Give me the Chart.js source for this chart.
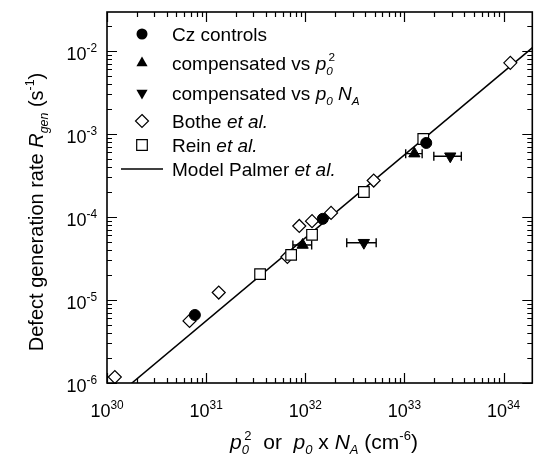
<!DOCTYPE html>
<html>
<head>
<meta charset="utf-8">
<script src="https://cdn.jsdelivr.net/npm/chart.js@4.4.1/dist/chart.umd.min.js"></script>
<style>
html, body { margin: 0; padding: 0; background: #fff; }
#wrap { width: 541px; height: 457px; position: relative; }
</style>
</head>
<body>
<div id="wrap"><canvas id="chart"></canvas></div>
<script>
// data (x in cm^-6, y in s^-1)
const czX = [7.7e30, 1.5e32, 1.66e33];
const czY = [6.6e-6, 9.5e-5, 7.8e-4];

const compP2X = [9.4e31, 1.26e33];
const compP2Y = [4.6e-5, 5.8e-4];
const compP2Xmin = [7.5e31, 1.03e33];
const compP2Xmax = [1.16e32, 1.51e33];

const compNAX = [3.9e32, 2.9e33];
const compNAY = [4.9e-5, 5.4e-4];
const compNAXmin = [2.62e32, 1.98e33];
const compNAXmax = [5.19e32, 3.75e33];

const botheX = [1.2e30, 6.8e30, 1.34e31, 6.6e31, 8.7e31, 1.17e32, 1.82e32, 4.9e32, 1.17e34];
const botheY = [1.18e-6, 5.6e-6, 1.23e-5, 3.3e-5, 7.8e-5, 8.9e-5, 1.12e-4, 2.75e-4, 7.2e-3];

const reinX = [3.5e31, 7.2e31, 1.17e32, 3.9e32, 1.55e33];
const reinY = [2.05e-5, 3.5e-5, 6.1e-5, 2.0e-4, 8.7e-4];

const modelX = [1e30, 2e34];
const modelY = [5.6e-7, 1.12e-2];

// tick labels (powers of ten)
const xTickExp = ['30', '31', '32', '33', '34'];
const yTickExp = ['-6', '-5', '-4', '-3', '-2'];

const FONT = '"Liberation Sans", Arial, sans-serif';

function pts(xs, ys) {
    return xs.map((x, i) => ({ x: x, y: ys[i] }));
}

// draw a run of text pieces: [text, flags]  i=italic b=subscript p=superscript o=stack on previous
function richText(ctx, segs, x, y, align, size, small) {
    small = small || 0.62;
    const items = [];
    let cx = 0, prev = 0;
    for (const s of segs) {
        const t = s[0], f = s[1] || '';
        const isSmall = f.includes('b') || f.includes('p');
        const fs = isSmall ? size * small : size;
        const font = (f.includes('i') ? 'italic ' : '') + fs + 'px ' + FONT;
        ctx.font = font;
        const w = ctx.measureText(t).width;
        const sx = f.includes('o') ? prev + size * 0.12 : cx;
        const dy = f.includes('b') ? size * 0.25 : (f.includes('p') ? -size * 0.45 : 0);
        items.push({ t: t, font: font, sx: sx, dy: dy });
        prev = sx;
        cx = Math.max(cx, sx + w);
    }
    let ox = x;
    if (align === 'center') ox = x - cx / 2;
    if (align === 'right') ox = x - cx;
    ctx.textAlign = 'left';
    ctx.textBaseline = 'alphabetic';
    for (const it of items) {
        ctx.font = it.font;
        ctx.fillText(it.t, ox + it.sx, y + it.dy);
    }
}

function marker(ctx, style, x, y) {
    ctx.save();
    ctx.lineWidth = 1.2;
    ctx.strokeStyle = '#000';
    ctx.beginPath();
    if (style === 'circle') {
        ctx.arc(x, y, 5.5, 0, Math.PI * 2);
        ctx.fillStyle = '#000';
        ctx.fill();
    } else if (style === 'up') {
        ctx.moveTo(x, y - 6.5); ctx.lineTo(x + 5.6, y + 3.3); ctx.lineTo(x - 5.6, y + 3.3); ctx.closePath();
        ctx.fillStyle = '#000';
        ctx.fill();
    } else if (style === 'down') {
        ctx.moveTo(x, y + 6.5); ctx.lineTo(x + 5.6, y - 3.3); ctx.lineTo(x - 5.6, y - 3.3); ctx.closePath();
        ctx.fillStyle = '#000';
        ctx.fill();
    } else if (style === 'diamond') {
        ctx.moveTo(x, y - 6.5); ctx.lineTo(x + 6.5, y); ctx.lineTo(x, y + 6.5); ctx.lineTo(x - 6.5, y); ctx.closePath();
        ctx.stroke();
    } else if (style === 'square') {
        ctx.rect(x - 5.3, y - 5.3, 10.6, 10.6);
        ctx.stroke();
    }
    ctx.restore();
}

const legendRows = [
    { y: 34, mark: 'circle', text: [['Cz controls']] },
    { y: 63, mark: 'up', text: [['compensated vs '], ['p', 'i'], ['0', 'ib'], ['2', 'po']] },
    { y: 93, mark: 'down', text: [['compensated vs '], ['p', 'i'], ['0', 'ib'], [' '], ['N', 'i'], ['A', 'ib']] },
    { y: 121, mark: 'diamond', text: [['Bothe '], ['et al.', 'i']] },
    { y: 145, mark: 'square', text: [['Rein '], ['et al.', 'i']] },
    { y: 169, mark: 'line', text: [['Model Palmer '], ['et al.', 'i']] }
];

const framePlugin = {
    id: 'frame',
    beforeDatasetsDraw(chart) {
        // horizontal error bars, through the scales
        const ctx = chart.ctx, xs = chart.scales.x, ys = chart.scales.y;
        ctx.save();
        ctx.strokeStyle = '#000';
        ctx.lineWidth = 1.4;
        const bars = [[compP2Xmin, compP2Xmax, compP2Y], [compNAXmin, compNAXmax, compNAY]];
        for (const b of bars) {
            for (let i = 0; i < b[0].length; i++) {
                const x1 = xs.getPixelForValue(b[0][i]);
                const x2 = xs.getPixelForValue(b[1][i]);
                const y = ys.getPixelForValue(b[2][i]);
                ctx.beginPath();
                ctx.moveTo(x1, y); ctx.lineTo(x2, y);
                ctx.moveTo(x1, y - 4.5); ctx.lineTo(x1, y + 4.5);
                ctx.moveTo(x2, y - 4.5); ctx.lineTo(x2, y + 4.5);
                ctx.stroke();
            }
        }
        ctx.restore();
    },
    afterDraw(chart) {
        const ctx = chart.ctx, a = chart.chartArea;
        const xs = chart.scales.x, ys = chart.scales.y;
        ctx.save();
        ctx.strokeStyle = '#000';
        ctx.fillStyle = '#000';

        // frame
        ctx.lineWidth = 1.6;
        ctx.strokeRect(a.left, a.top, a.right - a.left, a.bottom - a.top);

        // inward ticks on all four sides
        ctx.lineWidth = 1.2;
        ctx.beginPath();
        for (let d = 29; d <= 34; d++) {
            for (let m = 1; m <= 9; m++) {
                const v = m * Math.pow(10, d);
                if (v < xs.min || v > xs.max) continue;
                const px = Math.round(xs.getPixelForValue(v)) + 0.5;
                const len = m === 1 ? 10 : 5;
                ctx.moveTo(px, a.bottom); ctx.lineTo(px, a.bottom - len);
                ctx.moveTo(px, a.top); ctx.lineTo(px, a.top + len);
            }
        }
        for (let d = -7; d <= -1; d++) {
            for (let m = 1; m <= 9; m++) {
                const v = m * Math.pow(10, d);
                if (v < ys.min || v > ys.max) continue;
                const py = Math.round(ys.getPixelForValue(v)) + 0.5;
                const len = m === 1 ? 10 : 5;
                ctx.moveTo(a.left, py); ctx.lineTo(a.left + len, py);
                ctx.moveTo(a.right, py); ctx.lineTo(a.right - len, py);
            }
        }
        ctx.stroke();

        // tick labels
        xTickExp.forEach(e => {
            const px = xs.getPixelForValue(Math.pow(10, Number(e)));
            richText(ctx, [['10'], [e, 'p']], px, 417, 'center', 18, 0.66);
        });
        yTickExp.forEach(e => {
            const py = ys.getPixelForValue(Math.pow(10, Number(e)));
            richText(ctx, [['10'], [e, 'p']], 97, py + 9, 'right', 18, 0.66);
        });

        // axis titles
        richText(ctx, [['p', 'i'], ['0', 'ib'], ['2', 'po'], ['  or  '], ['p', 'i'], ['0', 'ib'], [' x '], ['N', 'i'], ['A', 'ib'], [' (cm'], ['-6', 'p'], [')']],
            324, 449, 'center', 21);
        ctx.save();
        ctx.translate(43, 212);
        ctx.rotate(-Math.PI / 2);
        richText(ctx, [['Defect generation rate '], ['R', 'i'], ['gen', 'ib'], [' (s'], ['-1', 'p'], [')']], 0, 0, 'center', 20);
        ctx.restore();

        // legend
        for (const r of legendRows) {
            if (r.mark === 'line') {
                ctx.lineWidth = 1.5;
                ctx.beginPath();
                ctx.moveTo(121, r.y); ctx.lineTo(163, r.y);
                ctx.stroke();
            } else {
                marker(ctx, r.mark, 142, r.y);
            }
            richText(ctx, r.text, 172, r.y + 7, 'left', 19);
        }
        ctx.restore();
    }
};

// first dataset is drawn on top, so filled markers come first
new Chart(document.getElementById('chart'), {
    type: 'scatter',
    data: {
        datasets: [
            {
                label: 'Cz controls',
                data: pts(czX, czY),
                pointStyle: 'circle',
                pointRadius: 5.5,
                backgroundColor: '#000',
                borderColor: '#000',
                borderWidth: 1
            },
            {
                label: 'compensated vs p0^2',
                data: pts(compP2X, compP2Y),
                pointStyle: 'triangle',
                pointRadius: 6.5,
                backgroundColor: '#000',
                borderColor: '#000',
                borderWidth: 1
            },
            {
                label: 'compensated vs p0 NA',
                data: pts(compNAX, compNAY),
                pointStyle: 'triangle',
                pointRotation: 180,
                pointRadius: 6.5,
                backgroundColor: '#000',
                borderColor: '#000',
                borderWidth: 1
            },
            {
                label: 'Rein et al.',
                data: pts(reinX, reinY),
                pointStyle: 'rect',
                pointRadius: 7.5,
                backgroundColor: '#fff',
                borderColor: '#000',
                borderWidth: 1.2
            },
            {
                label: 'Bothe et al.',
                data: pts(botheX, botheY),
                pointStyle: 'rectRot',
                pointRadius: 6.5,
                backgroundColor: '#fff',
                borderColor: '#000',
                borderWidth: 1.2
            },
            {
                label: 'Model Palmer et al.',
                type: 'line',
                data: pts(modelX, modelY),
                borderColor: '#000',
                borderWidth: 1.5,
                pointRadius: 0,
                order: 10
            }
        ]
    },
    options: {
        responsive: true,
        maintainAspectRatio: false,
        animation: false,
        layout: { padding: { left: 107, right: 0, top: 12, bottom: 74 } },
        plugins: {
            legend: { display: false },
            tooltip: { enabled: false }
        },
        scales: {
            x: { type: 'logarithmic', min: 1e30, max: 1.95e34, display: false },
            y: { type: 'logarithmic', min: 1e-6, max: 2.95e-2, display: false }
        }
    },
    plugins: [framePlugin]
});
</script>
</body>
</html>
